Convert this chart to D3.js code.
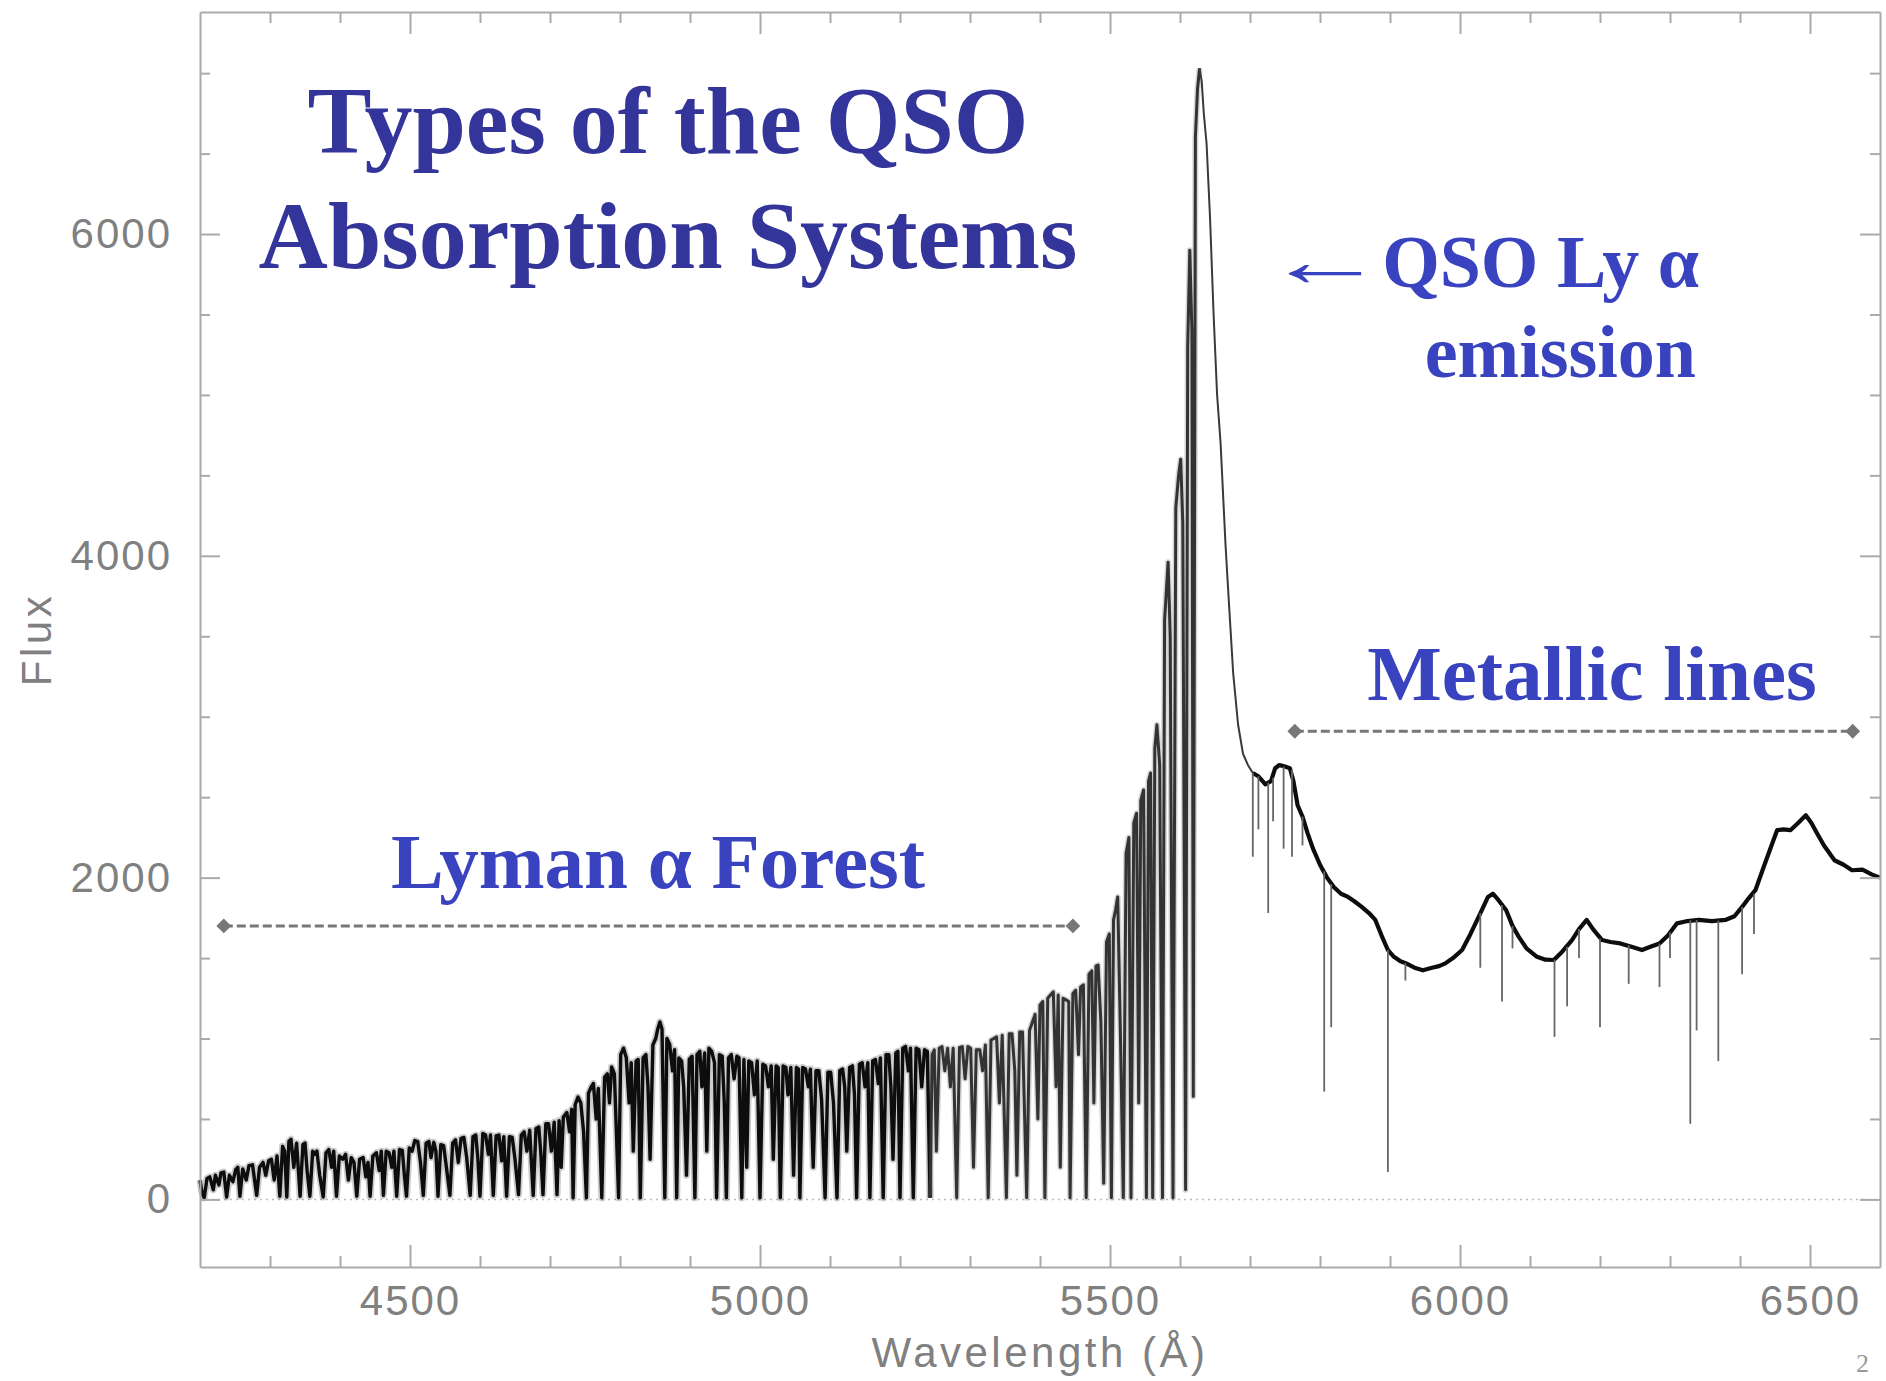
<!DOCTYPE html>
<html>
	<head>
		<title>Types of the QSO Absorption Systems</title>
		<meta charset="utf-8">
	</head>
	<body>
		<svg id="chart" width="1886" height="1381"></svg>
	</body>

	<script src="https://d3js.org/d3.v7.min.js"></script>
	<script>
		// spectrum, [wavelength (A), flux]
		let forestBlue = [
			[4200,120],[4203,40],[4206,10],[4210,130],[4214,140],[4219,60],[4222,150],[4227,90],[4230,165],[4234,170],[4238,15],[4242,150],
			[4247,110],[4251,185],[4254,200],[4257,20],[4261,190],[4266,120],[4270,210],[4275,215],[4281,25],[4285,200],[4290,230],[4294,150],
			[4298,240],[4302,250],[4306,120],[4310,270],[4314,20],[4318,330],[4321,300],[4324,15],[4327,360],[4330,374],[4334,200],[4338,350],
			[4343,20],[4347,340],[4350,350],[4353,180],[4357,20],[4361,300],[4364,280],[4367,300],[4371,150],[4376,15],[4380,290],[4384,310],
			[4388,200],[4391,300],[4395,20],[4399,270],[4404,250],[4408,280],[4412,120],[4416,260],[4420,230],[4424,20],[4428,250],[4433,260],
			[4437,140],[4440,230],[4443,20],[4447,270],[4452,290],[4456,180],[4459,300],[4462,25],[4466,300],[4470,290],[4474,200],[4477,300],
			[4481,20],[4485,310],[4489,305],[4492,150],[4495,20],[4499,320],[4503,300],[4507,366],[4511,360],[4515,230],[4519,25],[4523,350],
			[4527,360],[4530,260],[4534,355],[4537,300],[4540,20],[4544,340],[4548,335],[4552,200],[4557,25],[4561,350],[4565,370],[4569,230],
			[4573,380],[4577,385],[4581,260],[4586,25],[4590,390],[4594,400],[4597,250],[4600,20],[4604,410],[4608,400],[4612,280],[4615,400],
			[4619,25],[4623,395],[4627,400],[4631,240],[4634,390],[4638,20],[4642,390],[4646,385],[4650,250],[4655,30],[4659,400],[4663,420],
			[4667,300],[4671,430],[4676,25],[4680,440],[4684,450],[4687,280],[4690,30],[4694,470],[4698,470],[4702,300],[4706,480],[4710,30],
			[4713,490]
		];

		let forestMid = [
			[4716,200],[4719,510],[4724,540],[4728,420],[4731,560],[4733,10],[4736,590],[4740,636],[4744,600],[4748,420],[4752,10],[4755,660],
			[4759,700],[4762,721],[4766,500],[4769,690],[4774,10],[4778,760],[4782,780],[4785,600],[4788,823],[4792,780],[4795,400],[4798,10],
			[4801,900],[4805,940],[4809,880],[4813,600],[4816,850],[4819,300],[4823,860],[4826,870],[4829,10],[4833,880],[4837,900],[4840,700],
			[4843,250],[4847,960],[4851,1000],[4854,1060],[4857,1103],[4860,1060],[4864,10],[4867,1000],[4871,963],[4875,800],[4878,930],[4881,10],
			[4884,880],[4888,860],[4891,700],[4895,150],[4899,870],[4903,890],[4907,10],[4910,900],[4914,920],[4917,700],[4921,910],[4924,300],
			[4927,940],[4931,920],[4935,850],[4938,10],[4942,900],[4946,890],[4949,600],[4952,10],[4955,880],[4959,900],[4963,750],[4967,890],
			[4970,880],[4974,10],[4977,870],[4981,200],[4984,860],[4988,850],[4992,650],[4996,860],[5000,10],[5004,840],[5008,830],[5012,700],
			[5016,830],[5019,250],[5023,830],[5026,820],[5029,10],[5033,830],[5037,820],[5040,650],[5044,820],[5048,150],[5052,820],[5055,810],
			[5057,10],[5061,820],[5065,810],[5069,700],[5072,810],[5076,200],[5080,800],[5084,800],[5088,620],[5093,10],[5097,790],[5101,790],
			[5105,600],[5110,10],[5114,800],[5118,810],[5121,700],[5124,300],[5128,820],[5132,830],[5135,650],[5138,10],[5142,840],[5146,850],
			[5150,700],[5154,850],[5157,10],[5161,860],[5165,870],[5169,720],[5172,880],[5176,10],[5180,900],[5184,900],[5187,700],[5190,250],
			[5194,910],[5197,920],[5200,10],[5204,940],[5208,950],[5212,800],[5215,940],[5219,10],[5223,940],[5227,930],[5231,700],[5235,930],
			[5239,920],[5243,10]
		];

		let forestHigh = [
			[5246,900],[5249,930],[5252,300],[5256,940],[5260,950],[5264,800],[5268,940],[5272,700],[5276,940],[5281,10],[5285,945],[5289,950],
			[5293,750],[5297,950],[5301,940],[5305,200],[5309,930],[5314,930],[5318,800],[5322,960],[5326,10],[5330,990],[5334,1000],[5338,1010],
			[5342,600],[5346,1020],[5352,10],[5356,1030],[5360,1030],[5364,800],[5367,150],[5371,1040],[5375,1040],[5381,10],[5385,1050],[5389,1100],
			[5393,1150],[5397,500],[5400,1208],[5404,1230],[5407,10],[5411,1250],[5415,1270],[5419,1290],[5423,700],[5426,1270],[5429,200],[5433,1250],
			[5437,1240],[5441,1230],[5443,10],[5447,1280],[5451,1300],[5455,900],[5458,1320],[5462,1333],[5466,10],[5470,1400],[5474,1420],[5477,600],
			[5480,1450],[5483,1457],[5487,1100],[5491,100],[5495,1600],[5499,1650],[5502,10],[5505,1737],[5508,1800],[5511,1880],[5515,1000],[5519,10],
			[5523,2150],[5527,2250],[5530,10],[5534,2340],[5538,2400],[5541,600],[5544,2480],[5548,2545],[5552,10],[5555,2600],[5558,2650],[5561,10]
		];

		let emissionRise = [
			[5564,2800],[5567,2950],[5571,2700],[5575,10],[5578,3600],[5583,3960],[5586,3500],[5590,10],[5594,4300],[5598,4500],[5601,4600],[5604,4200],
			[5608,60],[5611,5300],[5614,5900],[5617,5400],[5619,640],[5622,6600],[5625,6900],[5628,7030]
		];

		let emissionWing = [
			[5628,7030],[5631,6950],[5634,6750],[5638,6560],[5643,6090],[5648,5500],[5653,5000],[5658,4700],[5665,4070],[5670,3700],[5676,3270],
			[5683,2950],[5690,2770],[5697,2700],[5704,2650]
		];

		let redContinuum = [
			[5704,2650],[5712,2630],[5718,2600],[5722,2580],[5730,2600],[5736,2680],[5742,2700],[5750,2690],[5757,2680],[5762,2600],[5768,2450],
			[5775,2380],[5782,2280],[5790,2180],[5800,2080],[5810,2000],[5820,1940],[5830,1900],[5840,1880],[5850,1850],[5860,1817],[5870,1780],
			[5879,1737],[5888,1640],[5897,1550],[5905,1510],[5915,1480],[5923,1467],[5935,1440],[5947,1424],[5960,1440],[5970,1450],[5979,1467],
			[5990,1500],[6003,1550],[6015,1650],[6029,1778],[6040,1880],[6047,1900],[6055,1860],[6066,1797],[6075,1700],[6084,1632],[6095,1560],
			[6110,1508],[6122,1490],[6134,1488],[6146,1540],[6160,1612],[6170,1680],[6181,1737],[6190,1680],[6203,1612],[6215,1600],[6229,1591],
			[6245,1570],[6260,1550],[6272,1570],[6285,1591],[6297,1640],[6310,1716],[6325,1730],[6341,1737],[6360,1730],[6379,1737],[6392,1760],
			[6403,1818],[6412,1870],[6422,1922],[6435,2080],[6445,2200],[6453,2295],[6462,2300],[6472,2295],[6483,2340],[6494,2388],[6502,2340],
			[6510,2276],[6520,2200],[6535,2108],[6548,2080],[6560,2046],[6575,2050],[6588,2020],[6600,2000]
		];

		// metal absorption lines on the red side: [wavelength, continuum flux, line bottom]
		let metalLines = [
			[5704,2650,2130],[5712,2630,2300],[5726,2590,1780],[5733,2620,2350],[5748,2690,2180],[5760,2670,2130],[5775,2380,2200],
			[5806,2040,670],[5816,1960,1070],[5897,1550,170],[5922,1470,1360],[6029,1780,1440],[6060,1830,1230],[6075,1700,1560],
			[6135,1490,1010],[6153,1570,1200],[6170,1680,1500],[6200,1620,1070],[6241,1580,1340],[6285,1590,1320],[6300,1660,1500],
			[6329,1735,470],[6338,1737,1050],[6369,1733,860],[6403,1818,1400],[6420,1900,1650]
		];

		// ranges marked with dashed arrows: [from, to, flux level]
		let ranges = [[4234, 5447, 1700], [5764, 6561, 2910]];
		let rangeLabels = ["Lyman α Forest", "Metallic lines"];

		let titleLines = ["Types of the QSO", "Absorption Systems"];
		let emissionLines = ["QSO Ly α", "emission"];

		let xMajor = [4500, 5000, 5500, 6000, 6500];
		let yMajor = [0, 2000, 4000, 6000];
		let xDomain = [4200, 6600];
		let yDomain = [-420, 7380];

		let svg = d3.select("#chart");

		let frameLeft = 200, frameRight = 1880, frameTop = 12, frameBottom = 1267;

		let x = d3.scaleLinear().domain(xDomain).range([frameLeft, frameRight]);
		let y = d3.scaleLinear().domain(yDomain).range([frameBottom, frameTop]);

		let xMinor = d3.range(4300, 6600, 100).filter(v => xMajor.indexOf(v) < 0);
		let yMinor = d3.range(500, 7400, 500).filter(v => yMajor.indexOf(v) < 0);

		let line = d3.line()
			.x(d => x(d[0]))
			.y(d => y(d[1]));

		// zero level
		svg.append("line")
			.attr("x1", frameLeft).attr("x2", frameRight)
			.attr("y1", y(0)).attr("y2", y(0))
			.attr("stroke", "#bbb")
			.attr("stroke-width", 1.5)
			.attr("stroke-dasharray", "2,4");

		// blue side: dense forest in black, the rise to the peak slightly greyer
		let blueForest = forestBlue.concat(forestMid);
		let redForest = [blueForest[blueForest.length - 1]].concat(forestHigh, emissionRise);

		// soft grey halo under the forest, the scan of the original is smudged
		svg.append("path")
			.attr("class", "spectrum")
			.attr("d", line(blueForest))
			.attr("stroke", "#555")
			.attr("stroke-opacity", 0.3)
			.attr("stroke-width", 7);

		svg.append("path")
			.attr("class", "spectrum")
			.attr("d", line(redForest))
			.attr("stroke", "#777")
			.attr("stroke-opacity", 0.3)
			.attr("stroke-width", 6);

		svg.append("path")
			.attr("class", "spectrum")
			.attr("d", line(blueForest))
			.attr("stroke", "#0d0d0d")
			.attr("stroke-width", 3.4);

		svg.append("path")
			.attr("class", "spectrum")
			.attr("d", line(redForest))
			.attr("stroke", "#333")
			.attr("stroke-width", 3);

		svg.append("path")
			.attr("class", "spectrum")
			.attr("d", line(emissionWing))
			.attr("stroke", "#3a3a3a")
			.attr("stroke-width", 2);

		svg.append("path")
			.attr("class", "spectrum")
			.attr("d", line(redContinuum))
			.attr("stroke", "#0d0d0d")
			.attr("stroke-width", 4.2);

		svg.append("g")
			.selectAll("line")
			.data(metalLines)
			.enter()
			.append("line")
				.attr("x1", d => x(d[0]))
				.attr("x2", d => x(d[0]))
				.attr("y1", d => y(d[1]))
				.attr("y2", d => y(d[2]))
				.attr("stroke", "#666")
				.attr("stroke-width", 1.8);

		// axes, ticks point inwards on all four sides
		function addAxis(axis, tx, ty, major, minor, size, padding)
		{
			let g = svg.append("g")
				.attr("class", "axis")
				.attr("transform", `translate(${tx},${ty})`);

			g.call(axis.tickValues(major).tickSize(-size).tickSizeOuter(0).tickPadding(padding)
				.tickFormat(padding > 0 ? d3.format("d") : ""));

			let m = svg.append("g")
				.attr("class", "axis")
				.attr("transform", `translate(${tx},${ty})`);

			m.call(axis.tickValues(minor).tickSize(-size / 2).tickFormat(""));
			m.select(".domain").remove();
		}

		addAxis(d3.axisBottom(x), 0, frameBottom, xMajor, xMinor, 22, 18);
		addAxis(d3.axisTop(x), 0, frameTop, xMajor, xMinor, 22, 0);
		addAxis(d3.axisLeft(y), frameLeft, 0, yMajor, yMinor, 20, 28);
		addAxis(d3.axisRight(y), frameRight, 0, yMajor, yMinor, 20, 0);

		svg.append("text")
			.attr("class", "axis-title")
			.attr("x", (frameLeft + frameRight) / 2)
			.attr("y", 1367)
			.attr("text-anchor", "middle")
			.text("Wavelength (Å)");

		svg.append("text")
			.attr("class", "axis-title")
			.attr("transform", `translate(36,${(frameTop + frameBottom) / 2}) rotate(-90)`)
			.attr("dy", "0.35em")
			.attr("text-anchor", "middle")
			.text("Flux");

		// dashed range markers with diamond ends
		let diamond = d3.symbol(d3.symbolSquare, 110);

		for (let i = 0; i < ranges.length; i++)
		{
			let r = ranges[i];

			svg.append("line")
				.attr("x1", x(r[0])).attr("x2", x(r[1]))
				.attr("y1", y(r[2])).attr("y2", y(r[2]))
				.attr("stroke", "#777")
				.attr("stroke-width", 3)
				.attr("stroke-dasharray", "9,4");

			svg.selectAll(null)
				.data([r[0], r[1]])
				.enter()
				.append("path")
					.attr("d", diamond)
					.attr("transform", d => `translate(${x(d)},${y(r[2])}) rotate(45)`)
					.attr("fill", "#777");
		}

		svg.append("text")
			.attr("class", "label")
			.attr("x", 658)
			.attr("y", 888)
			.attr("text-anchor", "middle")
			.text(rangeLabels[0]);

		svg.append("text")
			.attr("class", "label")
			.attr("x", 1592)
			.attr("y", 700)
			.attr("text-anchor", "middle")
			.text(rangeLabels[1]);

		// title
		svg.selectAll(".title")
			.data(titleLines)
			.enter()
			.append("text")
				.attr("class", "title")
				.attr("x", 668)
				.attr("y", (d, i) => 153 + i * 115)
				.attr("text-anchor", "middle")
				.text(d => d);

		// emission label, the arrow stretched to the width it has on the slide
		svg.append("text")
			.attr("class", "arrow")
			.attr("transform", "translate(1325,286) scale(1.65,1)")
			.attr("text-anchor", "middle")
			.text("←");

		svg.selectAll(".emission")
			.data(emissionLines)
			.enter()
			.append("text")
				.attr("class", "emission")
				.attr("x", (d, i) => i == 0 ? 1699 : 1696)
				.attr("y", (d, i) => 287 + i * 90)
				.attr("text-anchor", "end")
				.text(d => d);

		// slide number in the corner
		svg.append("text")
			.attr("class", "page")
			.attr("x", 1856)
			.attr("y", 1372)
			.text("2");
	</script>

	<style>

		html, body
		{
			margin: 0;
			overflow: hidden;
			background: #fff;
		}

		#chart
		{
			display: block;
			background: #fff;
		}

		.spectrum
		{
			fill: none;
			stroke-linejoin: round;
		}

		.axis .domain,
		.axis line
		{
			stroke: #aaa;
			stroke-width: 2;
		}

		.axis text
		{
			font-family: "Liberation Sans", Arial, sans-serif;
			font-size: 42px;
			letter-spacing: 2px;
			fill: #808080;
		}

		.axis-title
		{
			font-family: "Liberation Sans", Arial, sans-serif;
			font-size: 42px;
			letter-spacing: 3.5px;
			fill: #808080;
		}

		.title
		{
			font-family: "Liberation Serif", "Times New Roman", serif;
			font-weight: bold;
			font-size: 96px;
			fill: #34359a;
		}

		.label
		{
			font-family: "Liberation Serif", "Times New Roman", serif;
			font-weight: bold;
			font-size: 79px;
			fill: #3a43bf;
		}

		.emission
		{
			font-family: "Liberation Serif", "Times New Roman", serif;
			font-weight: bold;
			font-size: 74px;
			fill: #3a43bf;
		}

		.arrow
		{
			font-family: "Liberation Serif", "DejaVu Serif", serif;
			font-size: 74px;
			fill: #3a43bf;
		}

		.page
		{
			font-family: "Liberation Serif", serif;
			font-size: 26px;
			fill: #999;
		}

	</style>
</html>
